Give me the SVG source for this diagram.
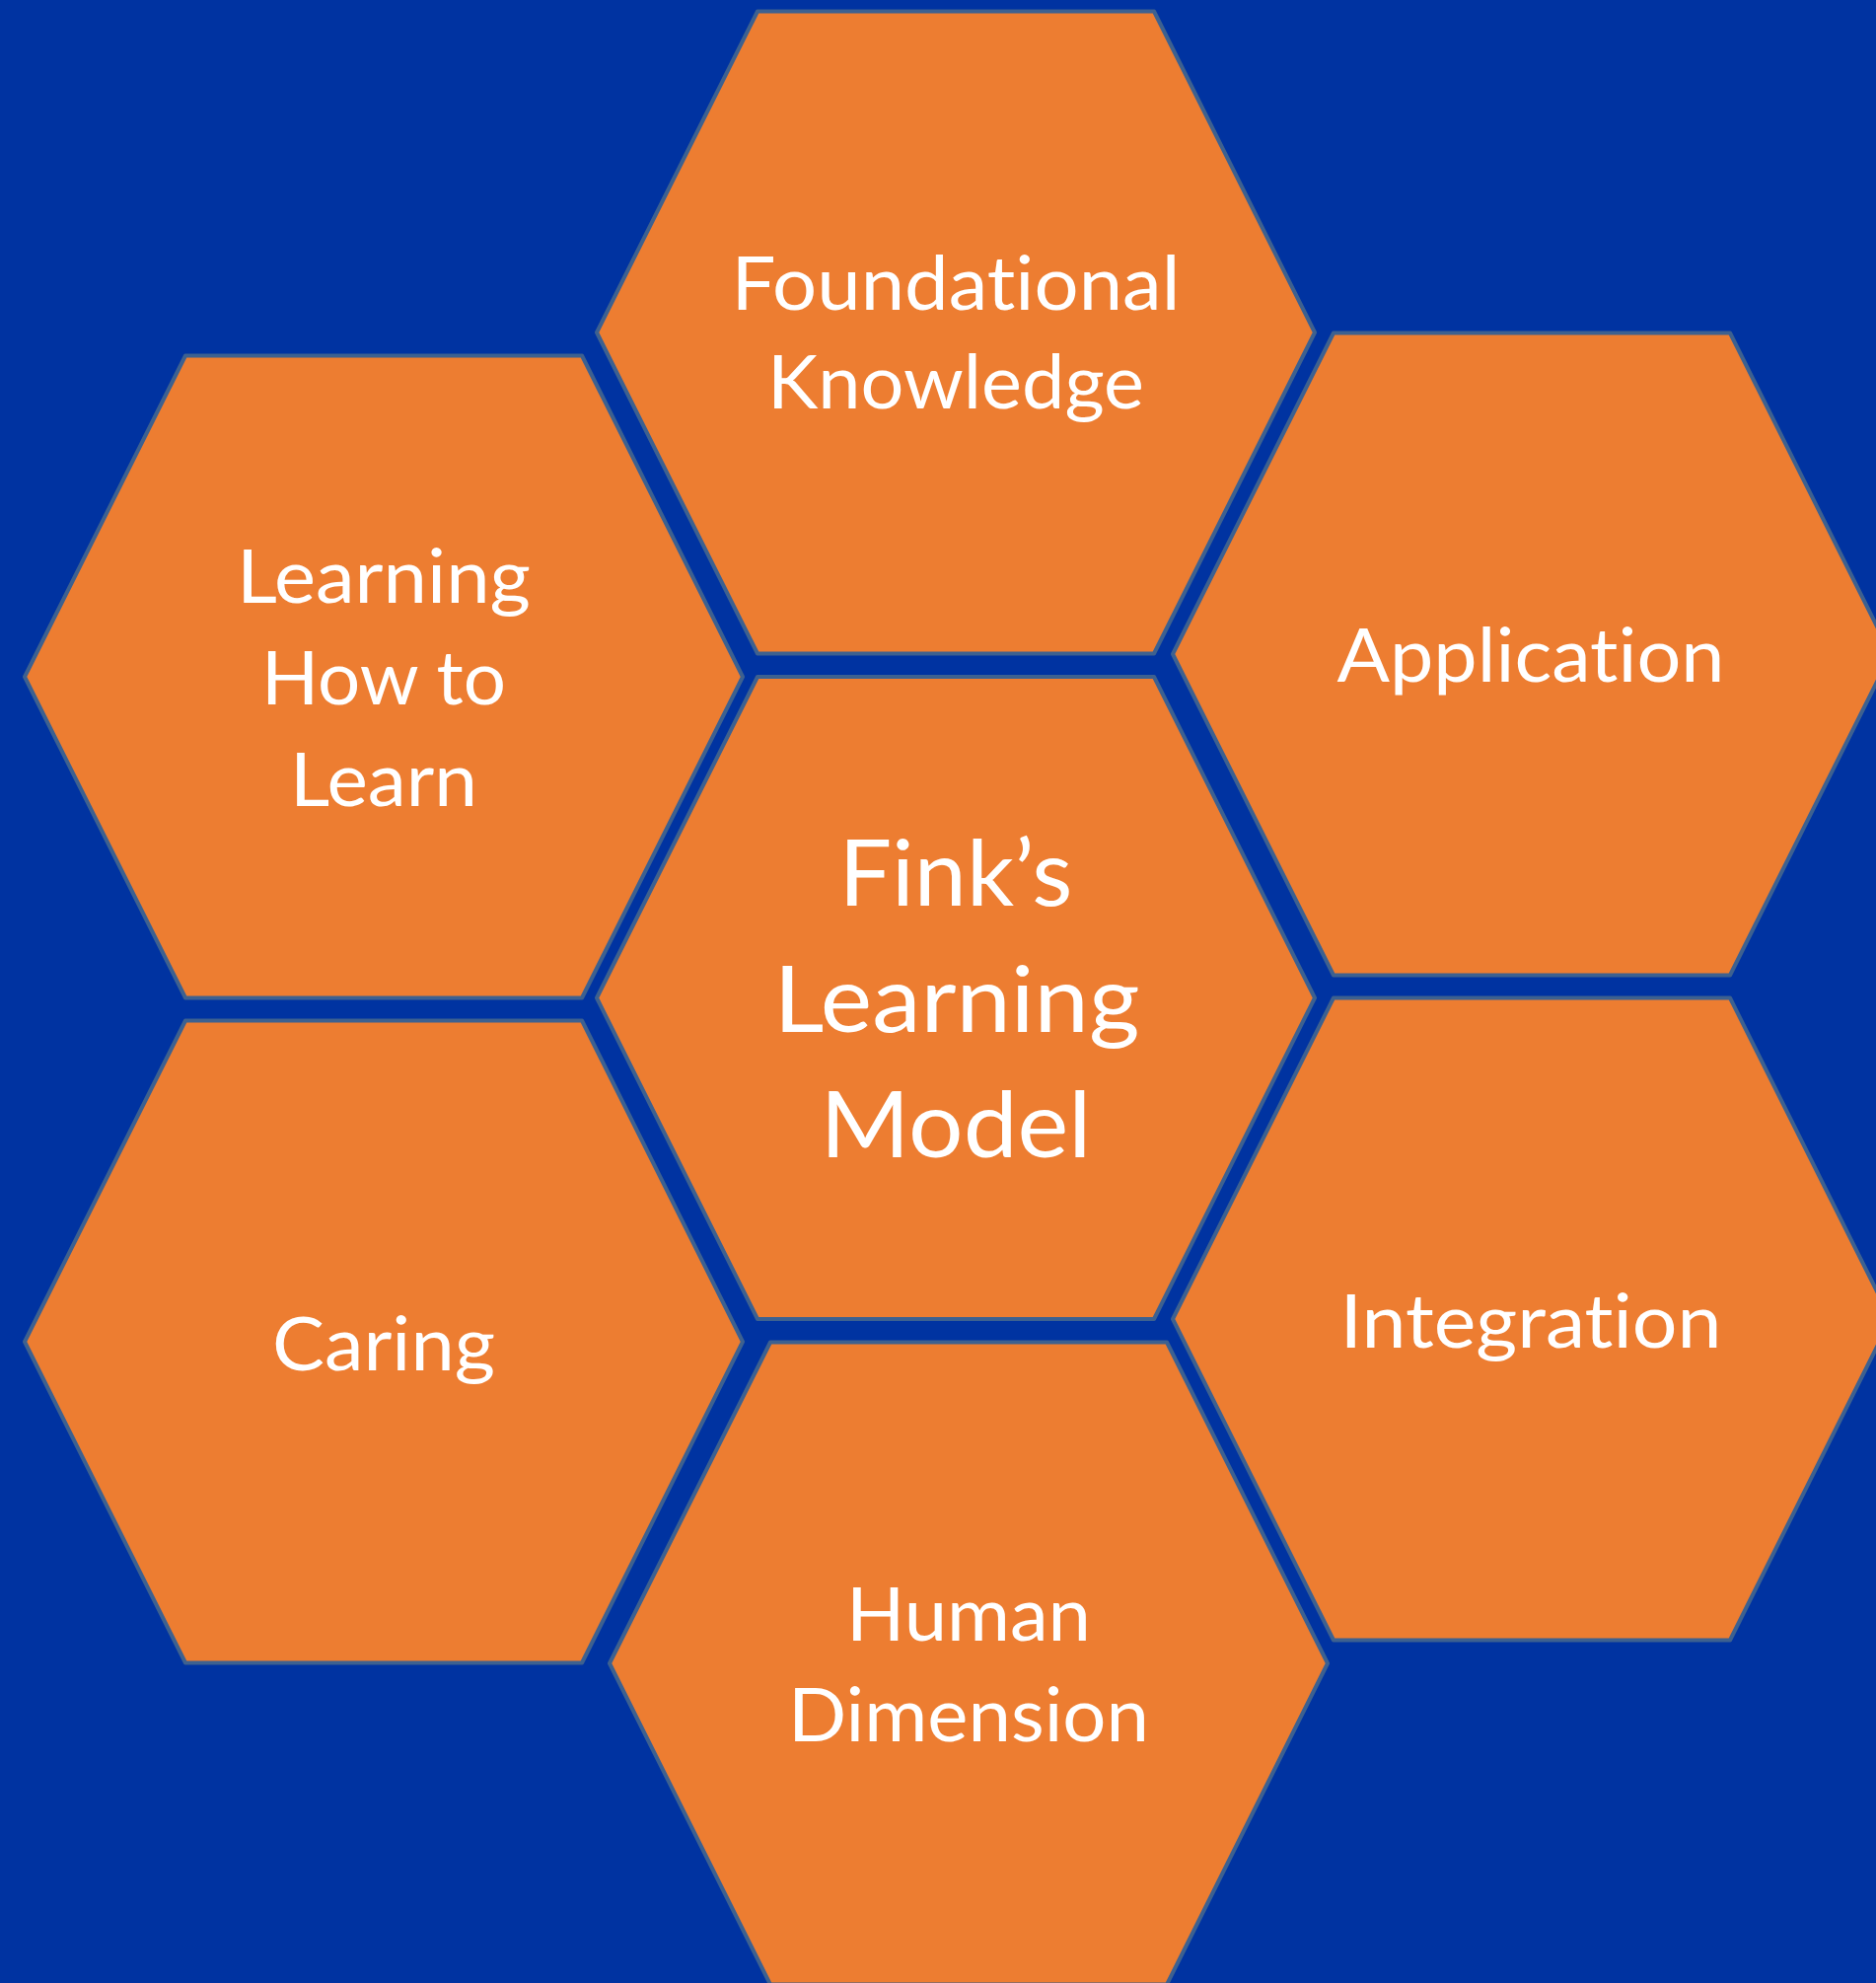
<svg xmlns="http://www.w3.org/2000/svg" width="1902" height="2010" viewBox="0 0 1902 2010">
  <defs>
    <style>
      .hex { fill: #ED7D31; stroke: #3D6190; stroke-width: 4; stroke-linejoin: round; }
      .lbl { fill: #FFFFFF; font-family: Lato, "Open Sans", "Liberation Sans", sans-serif; font-size: 76px; text-anchor: middle; font-variant-ligatures: none; font-feature-settings: "liga" 0, "clig" 0; }
      .big { font-size: 94px; }
    </style>
  </defs>
  <rect x="0" y="0" width="1902" height="2010" fill="#0033A1"/>
  <g id="connectors"></g>
  <g id="node-foundational">
    <polygon class="hex" points="605,337 768,11.5 1170,11.5 1333,337 1170,662.5 768,662.5"/>
    <text class="lbl" x="969" y="314" textLength="455" lengthAdjust="spacingAndGlyphs">Foundational</text>
    <text class="lbl" x="969" y="414" textLength="382" lengthAdjust="spacingAndGlyphs">Knowledge</text>
  </g>
  <g id="node-learning-how-to-learn">
    <polygon class="hex" points="25,686 188,360.5 590,360.5 753,686 590,1011.5 188,1011.5"/>
    <text class="lbl" x="389" y="611" textLength="298" lengthAdjust="spacingAndGlyphs">Learning</text>
    <text class="lbl" x="389" y="714" textLength="248" lengthAdjust="spacingAndGlyphs">How to</text>
    <text class="lbl" x="389" y="817" textLength="190" lengthAdjust="spacingAndGlyphs">Learn</text>
  </g>
  <g id="node-application">
    <polygon class="hex" points="1189,663 1352,337.5 1754,337.5 1917,663 1754,988.5 1352,988.5"/>
    <text class="lbl" x="1552" y="691" textLength="393" lengthAdjust="spacingAndGlyphs">Application</text>
  </g>
  <g id="node-center">
    <polygon class="hex" points="605,1011.5 768,686 1170,686 1333,1011.5 1170,1337 768,1337"/>
    <text class="lbl big" x="969" y="918" textLength="237" lengthAdjust="spacingAndGlyphs">Fink’s</text>
    <text class="lbl big" x="970" y="1046" textLength="371" lengthAdjust="spacingAndGlyphs">Learning</text>
    <text class="lbl big" x="969" y="1173" textLength="275" lengthAdjust="spacingAndGlyphs">Model</text>
  </g>
  <g id="node-caring">
    <polygon class="hex" points="25,1360 188,1034.5 590,1034.5 753,1360 590,1685.5 188,1685.5"/>
    <text class="lbl" x="389" y="1389" textLength="226" lengthAdjust="spacingAndGlyphs">Caring</text>
  </g>
  <g id="node-integration">
    <polygon class="hex" points="1189,1337 1352,1011.5 1754,1011.5 1917,1337 1754,1662.5 1352,1662.5"/>
    <text class="lbl" x="1552" y="1366" textLength="387" lengthAdjust="spacingAndGlyphs">Integration</text>
  </g>
  <g id="node-human-dimension">
    <polygon class="hex" points="618,1686 781,1360.5 1183,1360.5 1346,1686 1183,2011.5 781,2011.5"/>
    <text class="lbl" x="982" y="1663" textLength="248" lengthAdjust="spacingAndGlyphs">Human</text>
    <text class="lbl" x="982" y="1765" textLength="366" lengthAdjust="spacingAndGlyphs">Dimension</text>
  </g>
</svg>
